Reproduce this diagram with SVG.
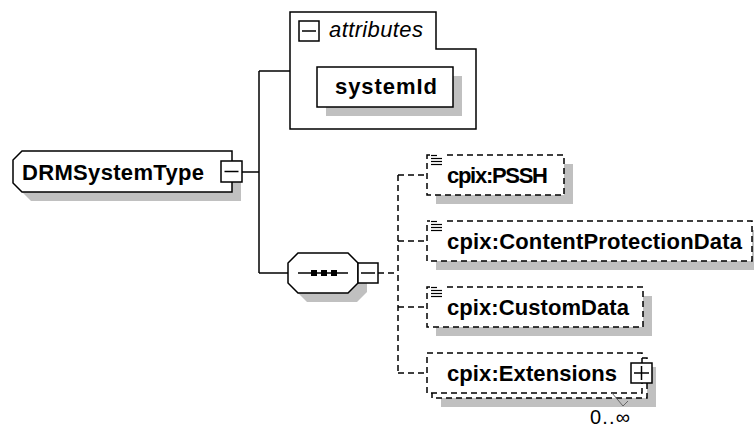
<svg xmlns="http://www.w3.org/2000/svg" width="754" height="430" viewBox="0 0 754 430">
<style>
  .ln{fill:none;stroke:#000;stroke-width:1.5}
  .dl{fill:none;stroke:#000;stroke-width:1.5;stroke-dasharray:6 4}
  .box{fill:#fff;stroke:#000;stroke-width:1.5}
  .dbox{fill:#fff;stroke:#000;stroke-width:1.5;stroke-dasharray:6 4}
  .sh{fill:#c0c0c0;stroke:none}
  .t{font-family:"Liberation Sans",Arial,sans-serif;font-size:22px;font-weight:bold;fill:#000}
  .ti{font-family:"Liberation Sans",Arial,sans-serif;font-size:22px;font-style:italic;fill:#000}
  .tr{font-family:"Liberation Sans",Arial,sans-serif;font-size:20px;fill:#000}
  .ic{fill:none;stroke:#000;stroke-width:1.2}
</style>
<defs>
  <g id="sc">
    <rect x="0" y="0" width="14" height="12" fill="#fff"/>
    <line class="ic" x1="1" y1="1.5" x2="7" y2="1.5"/>
    <line class="ic" x1="1" y1="4.5" x2="12" y2="4.5"/>
    <line class="ic" x1="1" y1="7.5" x2="12" y2="7.5"/>
    <line class="ic" x1="1" y1="10.5" x2="12" y2="10.5"/>
  </g>
</defs>

<g id="connectors">
  <line class="ln" x1="242" y1="172" x2="259" y2="172"/>
  <line class="ln" x1="259" y1="71" x2="259" y2="273"/>
  <line class="ln" x1="259" y1="71" x2="290" y2="71"/>
  <line class="ln" x1="259" y1="273" x2="288" y2="273"/>
  <line class="dl" x1="378" y1="273" x2="398" y2="273"/>
  <line class="dl" x1="398" y1="175" x2="398" y2="373"/>
  <line class="dl" x1="398" y1="175" x2="427" y2="175"/>
  <line class="dl" x1="398" y1="241" x2="427" y2="241"/>
  <line class="dl" x1="398" y1="307" x2="427" y2="307"/>
  <line class="dl" x1="398" y1="373" x2="427" y2="373"/>
</g>

<g id="DRMSystemType">
  <path class="sh" d="M31,160 H241 V201 H31 L22,192 V169 Z"/>
  <path class="box" d="M22,151 H232 V192 H22 L13,183 V160 Z"/>
  <text class="t" x="22" y="179.5" textLength="182">DRMSystemType</text>
  <rect class="box" x="221" y="161" width="21" height="21"/>
  <line class="ln" x1="224.5" y1="171.5" x2="238.5" y2="171.5"/>
</g>

<g id="attributes">
  <path class="box" d="M290,12 H436 V49 H476 V129 H290 Z"/>
  <rect class="box" x="299" y="21" width="20" height="20"/>
  <line class="ln" x1="302" y1="31" x2="316" y2="31"/>
  <text class="ti" x="329" y="36.5" textLength="94">attributes</text>
</g>

<g id="systemId">
  <rect class="sh" x="326" y="76" width="136" height="40"/>
  <rect class="box" x="317" y="67" width="136" height="40"/>
  <text class="t" x="335" y="94" textLength="102">systemId</text>
</g>

<g id="sequence">
  <path class="sh" d="M307,262 H357 L367,272 V292 L357,302 H307 L297,292 V272 Z"/>
  <path class="box" d="M298,253 H348 L358,263 V283 L348,293 H298 L288,283 V263 Z"/>
  <line class="ln" x1="298" y1="273" x2="348" y2="273"/>
  <rect x="311" y="270" width="6" height="6" fill="#000"/>
  <rect x="321" y="270" width="6" height="6" fill="#000"/>
  <rect x="331" y="270" width="6" height="6" fill="#000"/>
  <rect class="box" x="358" y="263" width="20" height="20"/>
  <line class="ln" x1="361" y1="273" x2="375" y2="273"/>
</g>

<g id="PSSH">
  <rect class="sh" x="436" y="164" width="137" height="40"/>
  <rect class="dbox" x="427" y="155" width="137" height="40"/>
  <use href="#sc" x="430" y="154"/>
  <text class="t" x="447" y="183" textLength="101">cpix:PSSH</text>
</g>

<g id="ContentProtectionData">
  <rect class="sh" x="436" y="230" width="325" height="40"/>
  <rect class="dbox" x="427" y="221" width="325" height="40"/>
  <use href="#sc" x="430" y="220"/>
  <text class="t" x="447" y="249" textLength="295">cpix:ContentProtectionData</text>
</g>

<g id="CustomData">
  <rect class="sh" x="436" y="296" width="216" height="40"/>
  <rect class="dbox" x="427" y="287" width="216" height="40"/>
  <use href="#sc" x="430" y="286"/>
  <text class="t" x="447" y="315" textLength="182">cpix:CustomData</text>
</g>

<g id="Extensions">
  <rect class="sh" x="441" y="367" width="215" height="40"/>
  <rect class="dbox" x="432" y="358" width="215" height="40"/>
  <rect class="dbox" x="427" y="353" width="215" height="40"/>
  <text class="t" x="447" y="381" textLength="170">cpix:Extensions</text>
  <rect class="box" x="631" y="363" width="21" height="20"/>
  <line class="ln" x1="634" y1="373" x2="649" y2="373"/>
  <line class="ln" x1="641.5" y1="366" x2="641.5" y2="380"/>
  <polyline points="612,393 623,406 628,401" fill="none" stroke="#666" stroke-width="1"/>
  <text class="tr" x="590" y="424" textLength="40">0..∞</text>
</g>
</svg>
